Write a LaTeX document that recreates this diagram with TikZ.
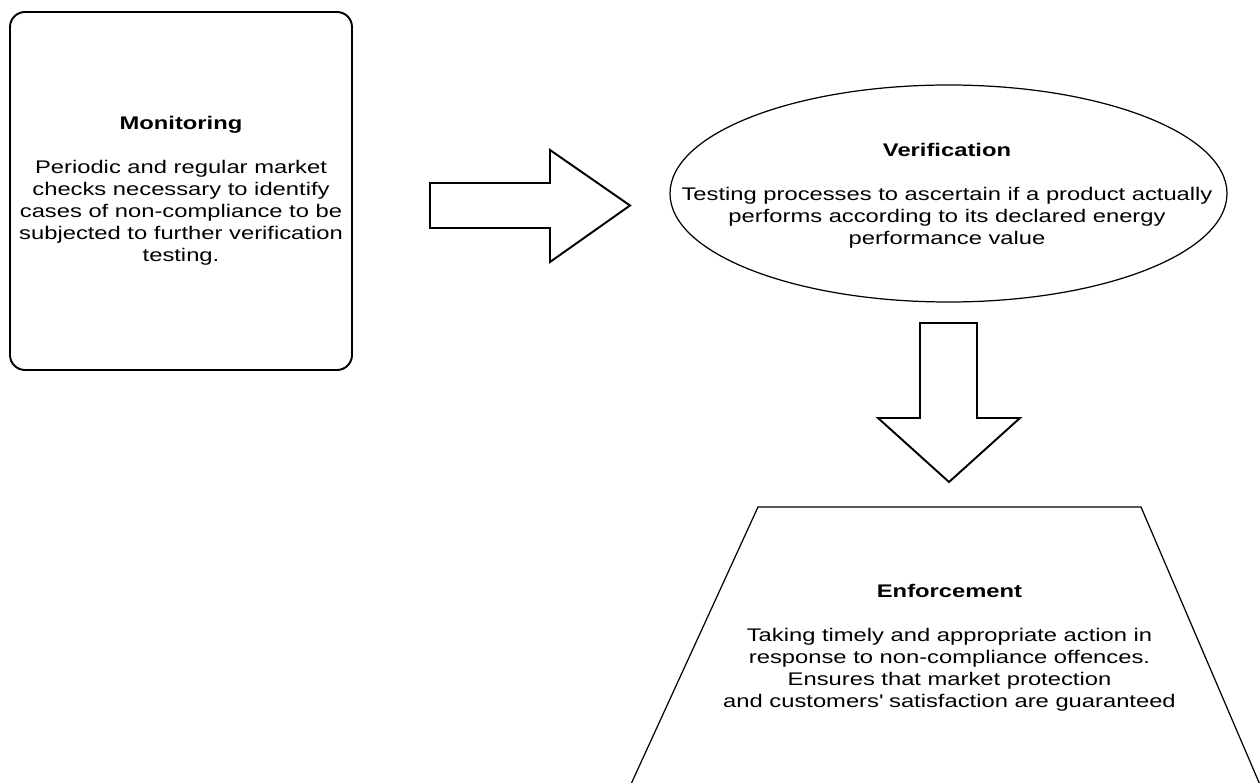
\documentclass[tikz,border=0pt]{standalone}
\usepackage{fontspec}
\setmainfont{Liberation Sans}[FakeStretch=1.3]
\usetikzlibrary{shapes.geometric}

\begin{document}
\begin{tikzpicture}[
    stage/.style={draw,line width=0.7pt,inner sep=0pt},
    stagetext/.style={align=center,inner sep=0pt,font=\fontsize{10.4}{12.5}\selectfont},
    bigarrow/.style={draw,line width=1.1pt,line join=miter}
  ]
        \useasboundingbox (0,0) rectangle (25.2,15.64);
        \clip (0,0) rectangle (25.2,15.64);

        \node[stage,stagetext,line width=1.1pt,rounded corners=0.3cm,minimum width=6.84cm,minimum height=7.16cm] (monitoring) at (3.62,11.82)
          {\textbf{Monitoring}\\[12.5pt]
           Periodic and regular market\\
           checks necessary to identify\\
           cases of non-compliance to be\\
           subjected to further verification\\
           testing.};

        \node[stage,ellipse,minimum width=11.14cm,minimum height=4.34cm] (verification) at (18.97,11.77) {};
        \node[stagetext] (verificationtext) at (18.94,11.73)
          {\textbf{Verification}\\[12.5pt]
           Testing processes to ascertain if a product actually\\
           performs according to its declared energy\\
           performance value};

        \draw[line width=0.7pt] (12.41,-0.5) -- (15.16,5.5) -- (22.82,5.5) -- (25.39,-0.5);
        \node[stagetext] (enforcement) at (18.99,2.68)
          {\textbf{Enforcement}\\[12.5pt]
           Taking timely and appropriate action in\\
           response to non-compliance offences.\\
           Ensures that market protection\\
           and customers\textquotesingle\ satisfaction are guaranteed};

        \draw[bigarrow] (8.6,11.98) -- (11.0,11.98) -- (11.0,12.64) -- (12.6,11.53) -- (11.0,10.4) -- (11.0,11.08) -- (8.6,11.08) -- cycle;
        \draw[bigarrow] (18.4,9.18) -- (19.54,9.18) -- (19.54,7.28) -- (20.4,7.28) -- (18.98,6.0) -- (17.56,7.28) -- (18.4,7.28) -- cycle;
\end{tikzpicture}
\end{document}
